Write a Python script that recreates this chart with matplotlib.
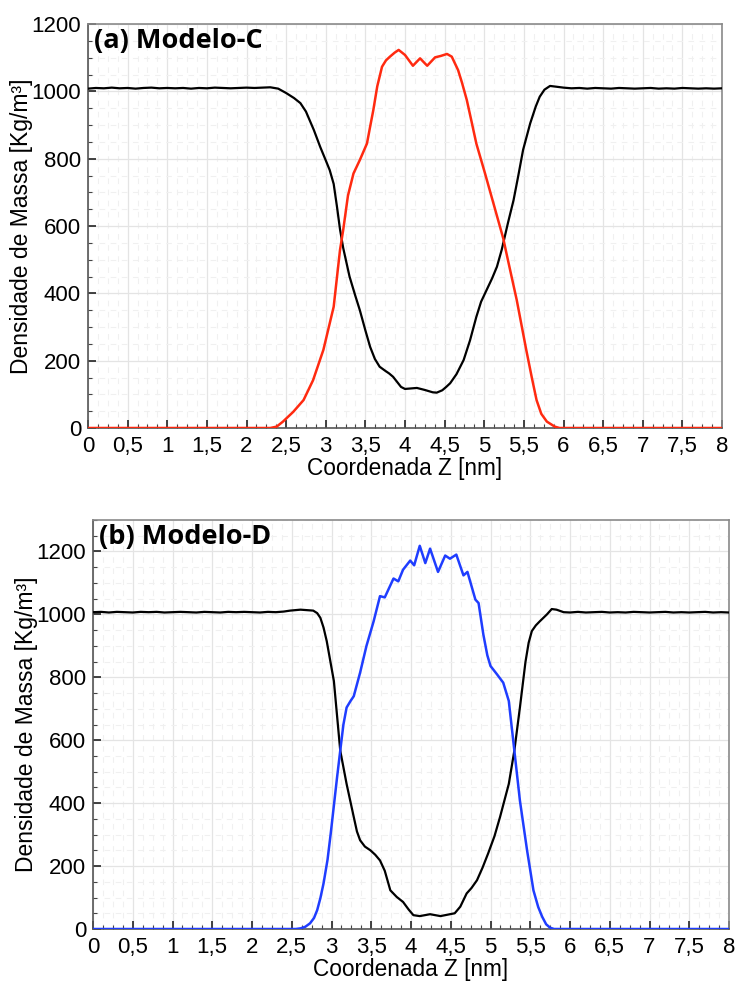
import matplotlib
matplotlib.use("Agg")
import matplotlib.pyplot as plt
from matplotlib.ticker import MultipleLocator, FuncFormatter

# ---------------- data ----------------
# Panel (a) Modelo-C
a_black_z = [0.0, 0.1, 0.2, 0.3, 0.4, 0.5, 0.6, 0.7, 0.8, 0.9, 1.0, 1.1, 1.2, 1.3, 1.4, 1.5,
             1.6, 1.7, 1.8, 1.9, 2.0, 2.1, 2.2, 2.3, 2.4, 2.5, 2.6, 2.68, 2.75, 2.85, 2.93,
             3.0, 3.05, 3.1, 3.14, 3.18, 3.22, 3.3, 3.37, 3.43, 3.5, 3.56, 3.62, 3.68, 3.75,
             3.8, 3.85, 3.9, 3.95, 4.0, 4.05, 4.15, 4.25, 4.35, 4.4, 4.47, 4.52, 4.57, 4.65,
             4.74, 4.82, 4.9, 4.96, 5.03, 5.1, 5.16, 5.22, 5.3, 5.37, 5.43, 5.49, 5.58, 5.65,
             5.7, 5.76, 5.83, 5.9, 6.0, 6.1, 6.2, 6.3, 6.4, 6.5, 6.6, 6.7, 6.8, 6.9, 7.0,
             7.1, 7.2, 7.3, 7.4, 7.5, 7.6, 7.7, 7.8, 7.9, 8.0]
a_black_rho = [1008, 1010, 1009, 1011, 1009, 1010, 1008, 1010, 1011, 1009, 1010, 1009, 1010,
               1008, 1010, 1009, 1011, 1010, 1009, 1010, 1011, 1010, 1011, 1012, 1008, 995,
               980, 965, 940, 885, 835, 795, 766, 725, 660, 590, 535, 450, 395, 350, 290,
               241, 205, 182, 170, 162, 152, 137, 122, 116, 117, 119, 113, 106, 105, 112,
               122, 133, 160, 202, 260, 330, 375, 410, 445, 479, 529, 610, 677, 750, 826,
               905, 955, 984, 1005, 1016, 1014, 1011, 1009, 1010, 1008, 1010, 1009, 1008,
               1010, 1009, 1008, 1009, 1010, 1008, 1009, 1008, 1010, 1009, 1008, 1009, 1008,
               1009]
a_red_z = [0.0, 2.3, 2.38, 2.46, 2.59, 2.72, 2.84, 2.97, 3.1, 3.18, 3.22, 3.28, 3.35, 3.43,
           3.52, 3.56, 3.6, 3.65, 3.71, 3.76, 3.81, 3.87, 3.92, 4.0, 4.1, 4.19, 4.28, 4.38,
           4.45, 4.53, 4.59, 4.67, 4.72, 4.78, 4.84, 4.9, 5.01, 5.14, 5.24, 5.28, 5.41,
           5.53, 5.6, 5.66, 5.72, 5.79, 5.89, 5.95, 8.0]
a_red_rho = [0, 0, 4, 19, 48, 83, 142, 232, 360, 529, 588, 690, 756, 796, 845, 895, 944,
             1015, 1073, 1092, 1103, 1115, 1123, 1108, 1076, 1098, 1076, 1101, 1105, 1111,
             1103, 1063, 1025, 974, 910, 845, 756, 647, 563, 519, 380, 232, 150, 83, 42,
             19, 4, 0, 0]

# Panel (b) Modelo-D
b_black_z = [0.0, 0.1, 0.2, 0.3, 0.4, 0.5, 0.6, 0.7, 0.8, 0.9, 1.0, 1.1, 1.2, 1.3, 1.4, 1.5,
             1.6, 1.7, 1.8, 1.9, 2.0, 2.1, 2.2, 2.3, 2.4, 2.48, 2.61, 2.77, 2.82, 2.86, 2.9,
             2.94, 3.03, 3.11, 3.19, 3.28, 3.32, 3.36, 3.42, 3.49, 3.55, 3.61, 3.67, 3.74,
             3.82, 3.9, 3.97, 4.03, 4.11, 4.24, 4.37, 4.45, 4.55, 4.62, 4.7, 4.76, 4.83,
             4.9, 4.97, 5.05, 5.12, 5.23, 5.3, 5.37, 5.44, 5.48, 5.52, 5.57, 5.62, 5.71,
             5.77, 5.83, 5.92, 6.0, 6.1, 6.2, 6.3, 6.4, 6.5, 6.6, 6.7, 6.8, 6.9, 7.0, 7.1,
             7.2, 7.3, 7.4, 7.5, 7.6, 7.7, 7.8, 7.9, 8.0]
b_black_rho = [1007, 1008, 1006, 1008, 1007, 1006, 1008, 1007, 1008, 1006, 1007, 1008, 1007,
               1006, 1008, 1007, 1006, 1008, 1007, 1008, 1007, 1006, 1008, 1007, 1009, 1012,
               1015, 1012, 1004, 989, 958, 915, 788, 567, 461, 356, 310, 282, 262, 250, 236,
               218, 185, 123, 102, 86, 62, 44, 41, 47, 41, 45, 50, 71, 113, 130, 155, 195,
               240, 295, 356, 461, 567, 704, 849, 910, 947, 965, 978, 1000, 1017, 1015,
               1007, 1006, 1008, 1006, 1007, 1008, 1006, 1007, 1006, 1008, 1007, 1006, 1007,
               1008, 1006, 1007, 1006, 1007, 1008, 1006, 1007, 1006]
b_blue_z = [0.0, 2.55, 2.61, 2.67, 2.73, 2.78, 2.82, 2.86, 2.9, 2.95, 2.99, 3.07, 3.11, 3.15,
            3.19, 3.24, 3.28, 3.36, 3.44, 3.53, 3.61, 3.67, 3.78, 3.84, 3.9, 3.99, 4.04,
            4.11, 4.18, 4.24, 4.34, 4.43, 4.49, 4.57, 4.66, 4.71, 4.81, 4.85, 4.91, 4.96,
            5.0, 5.08, 5.16, 5.23, 5.3, 5.37, 5.46, 5.54, 5.6, 5.65, 5.7, 5.75, 5.8, 8.0]
b_blue_rho = [0, 0, 2, 7, 18, 35, 60, 98, 145, 220, 303, 482, 567, 650, 704, 725, 740, 815,
              900, 978, 1058, 1054, 1114, 1105, 1142, 1171, 1156, 1218, 1163, 1209, 1135,
              1187, 1177, 1190, 1124, 1135, 1047, 1036, 936, 870, 836, 810, 783, 725, 567,
              408, 250, 123, 70, 39, 15, 4, 0, 0]

panels = [
    dict(title="(a) Modelo-C", bz=a_black_z, br=a_black_rho, cz=a_red_z, cr=a_red_rho,
         color="#ff2a10", ylim=1200, rect=[88/736, 1-428/984, (722-88)/736, (428-24)/984]),
    dict(title="(b) Modelo-D", bz=b_black_z, br=b_black_rho, cz=b_blue_z, cr=b_blue_rho,
         color="#1f3dff", ylim=1300, rect=[93/736, 1-929/984, (729-93)/736, (929-520)/984]),
]

plt.rcParams['font.family'] = ['Liberation Sans', 'DejaVu Sans']

fig = plt.figure(figsize=(7.36, 9.84), dpi=100)

def fmt(v, pos):
    s = ("%g" % v)
    return s.replace(".", ",")

for p in panels:
    ax = fig.add_axes(p["rect"])
    ax.plot(p["bz"], p["br"], color="black", lw=1.6, zorder=3)
    ax.plot(p["cz"], p["cr"], color=p["color"], lw=1.8, zorder=3)
    ax.set_xlim(0, 8)
    ax.set_ylim(0, p["ylim"])
    ax.xaxis.set_major_locator(MultipleLocator(0.5))
    ax.xaxis.set_minor_locator(MultipleLocator(0.125))
    ax.yaxis.set_major_locator(MultipleLocator(200))
    ax.yaxis.set_minor_locator(MultipleLocator(50))
    ax.xaxis.set_major_formatter(FuncFormatter(fmt))
    ax.grid(which="major", color="#e4e4e4", lw=0.9, ls="-", zorder=0)
    ax.grid(which="minor", color="#f0f0f0", lw=0.8, ls=(0, (5, 5)), zorder=0)
    ax.tick_params(which="major", direction="in", length=6, width=1.2, color="#222222",
                   labelsize=16, top=False, right=False)
    ax.tick_params(axis="x", which="major", pad=6)
    ax.tick_params(axis="y", which="major", pad=5)
    ax.tick_params(which="minor", direction="in", length=3, width=0.8, color="#444444",
                   top=False, right=False)
    for s in ax.spines.values():
        s.set_color("#8a8a8a")
        s.set_linewidth(1.2)
    ax.spines["left"].set_color("#555555")
    ax.spines["bottom"].set_color("#555555")
    ax.set_xlabel("Coordenada Z [nm]", fontsize=16.3, labelpad=0)
    ax.set_ylabel("Densidade de Massa [Kg/m³]", fontsize=16.5, labelpad=-1)
    ax.text(0.01, 0.99, p["title"], transform=ax.transAxes, ha="left", va="top",
            fontsize=19.5, fontweight="bold", family=["Open Sans", "DejaVu Sans"], zorder=5)

fig.savefig("out.png", dpi=100, facecolor="white")
